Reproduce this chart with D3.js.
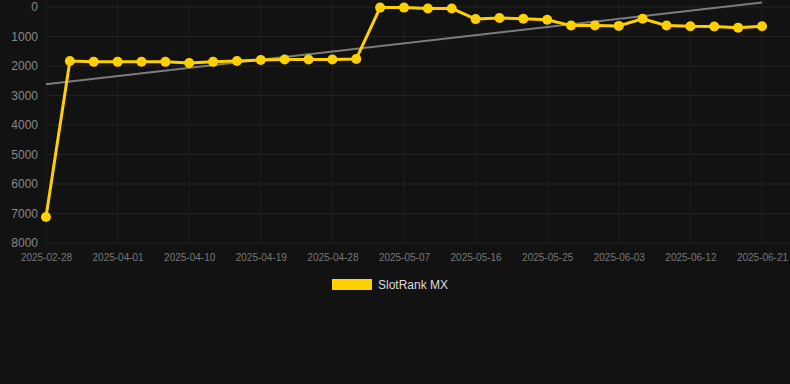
<!DOCTYPE html>
<html>
<head>
<meta charset="utf-8">
<script src="https://cdn.jsdelivr.net/npm/d3@7"></script>
<style>
  html, body { margin: 0; padding: 0; background: #121212; }
  svg { display: block; }
</style>
</head>
<body>
<svg id="chart" width="790" height="384"></svg>
<script>
const dates = ["2025-02-28","2025-03-26","2025-03-29","2025-04-01","2025-04-04","2025-04-07","2025-04-10","2025-04-13","2025-04-16","2025-04-19","2025-04-22","2025-04-25","2025-04-28","2025-05-01","2025-05-04","2025-05-07","2025-05-10","2025-05-13","2025-05-16","2025-05-19","2025-05-22","2025-05-25","2025-05-28","2025-05-31","2025-06-03","2025-06-06","2025-06-09","2025-06-12","2025-06-15","2025-06-18","2025-06-21"];
const ranks = [7120,1830,1860,1860,1855,1860,1900,1860,1830,1795,1780,1780,1780,1760,20,20,50,50,410,370,400,430,630,630,640,400,630,655,660,700,655];
const yTicks = [0,1000,2000,3000,4000,5000,6000,7000,8000];
const xTickLabels = ["2025-02-28","2025-04-01","2025-04-10","2025-04-19","2025-04-28","2025-05-07","2025-05-16","2025-05-25","2025-06-03","2025-06-12","2025-06-21"];
const seriesName = "SlotRank MX";

const svg = d3.select("#chart");
const x = d3.scalePoint().domain(dates).range([46, 762]);
const y = d3.scaleLinear().domain([0, 8000]).range([7, 243]);

// grid
const grid = svg.append("g");
grid.selectAll("line.h").data(yTicks).join("line")
  .attr("x1", 46).attr("x2", 790)
  .attr("y1", d => y(d)).attr("y2", d => y(d))
  .attr("stroke", "#222").attr("stroke-width", 1);
grid.selectAll("line.v").data(xTickLabels).join("line")
  .attr("x1", d => x(d)).attr("x2", d => x(d))
  .attr("y1", 0).attr("y2", 243)
  .attr("stroke", "#1e1e1e").attr("stroke-width", 1);

// y axis
const yAxis = svg.append("g").attr("transform", "translate(38,0)")
  .call(d3.axisLeft(y).tickValues(yTicks).tickSize(0).tickPadding(0).tickFormat(d3.format("d")));
yAxis.select(".domain").remove();
yAxis.selectAll("text").attr("fill", "#888").attr("font-family", "Liberation Sans, Arial, sans-serif").attr("font-size", "12px");

// x axis
const xAxis = svg.append("g").attr("transform", "translate(0,249)")
  .call(d3.axisBottom(x).tickValues(xTickLabels).tickSize(0).tickPadding(5));
xAxis.select(".domain").remove();
xAxis.selectAll("text").attr("fill", "#777").attr("font-family", "Liberation Sans, Arial, sans-serif").attr("font-size", "10px");

// trend line (least squares)
const n = ranks.length;
const xi = d3.range(n);
const mx = d3.mean(xi), my = d3.mean(ranks);
const slope = d3.sum(xi, i => (i - mx) * (ranks[i] - my)) / d3.sum(xi, i => (i - mx) ** 2);
const icpt = my - slope * mx;
svg.append("line")
  .attr("x1", x(dates[0])).attr("y1", y(icpt))
  .attr("x2", x(dates[n - 1])).attr("y2", y(icpt + slope * (n - 1)))
  .attr("stroke", "#888").attr("stroke-width", 2).attr("opacity", 0.9);

// series line
const line = d3.line().x((d, i) => x(dates[i])).y(d => y(d));
svg.append("path").datum(ranks)
  .attr("d", line).attr("fill", "none")
  .attr("stroke", "#FFD000").attr("stroke-width", 3).attr("stroke-linejoin", "round");
svg.append("g").selectAll("circle").data(ranks).join("circle")
  .attr("cx", (d, i) => x(dates[i])).attr("cy", d => y(d)).attr("r", 5)
  .attr("fill", "#FFD000");

// legend
const lg = svg.append("g");
lg.append("rect").attr("x", 332).attr("y", 279).attr("width", 40).attr("height", 11).attr("fill", "#FFD000");
lg.append("text").attr("x", 378).attr("y", 289).text(seriesName)
  .attr("fill", "#ddd").attr("font-family", "Liberation Sans, Arial, sans-serif").attr("font-size", "12px");
</script>
</body>
</html>
